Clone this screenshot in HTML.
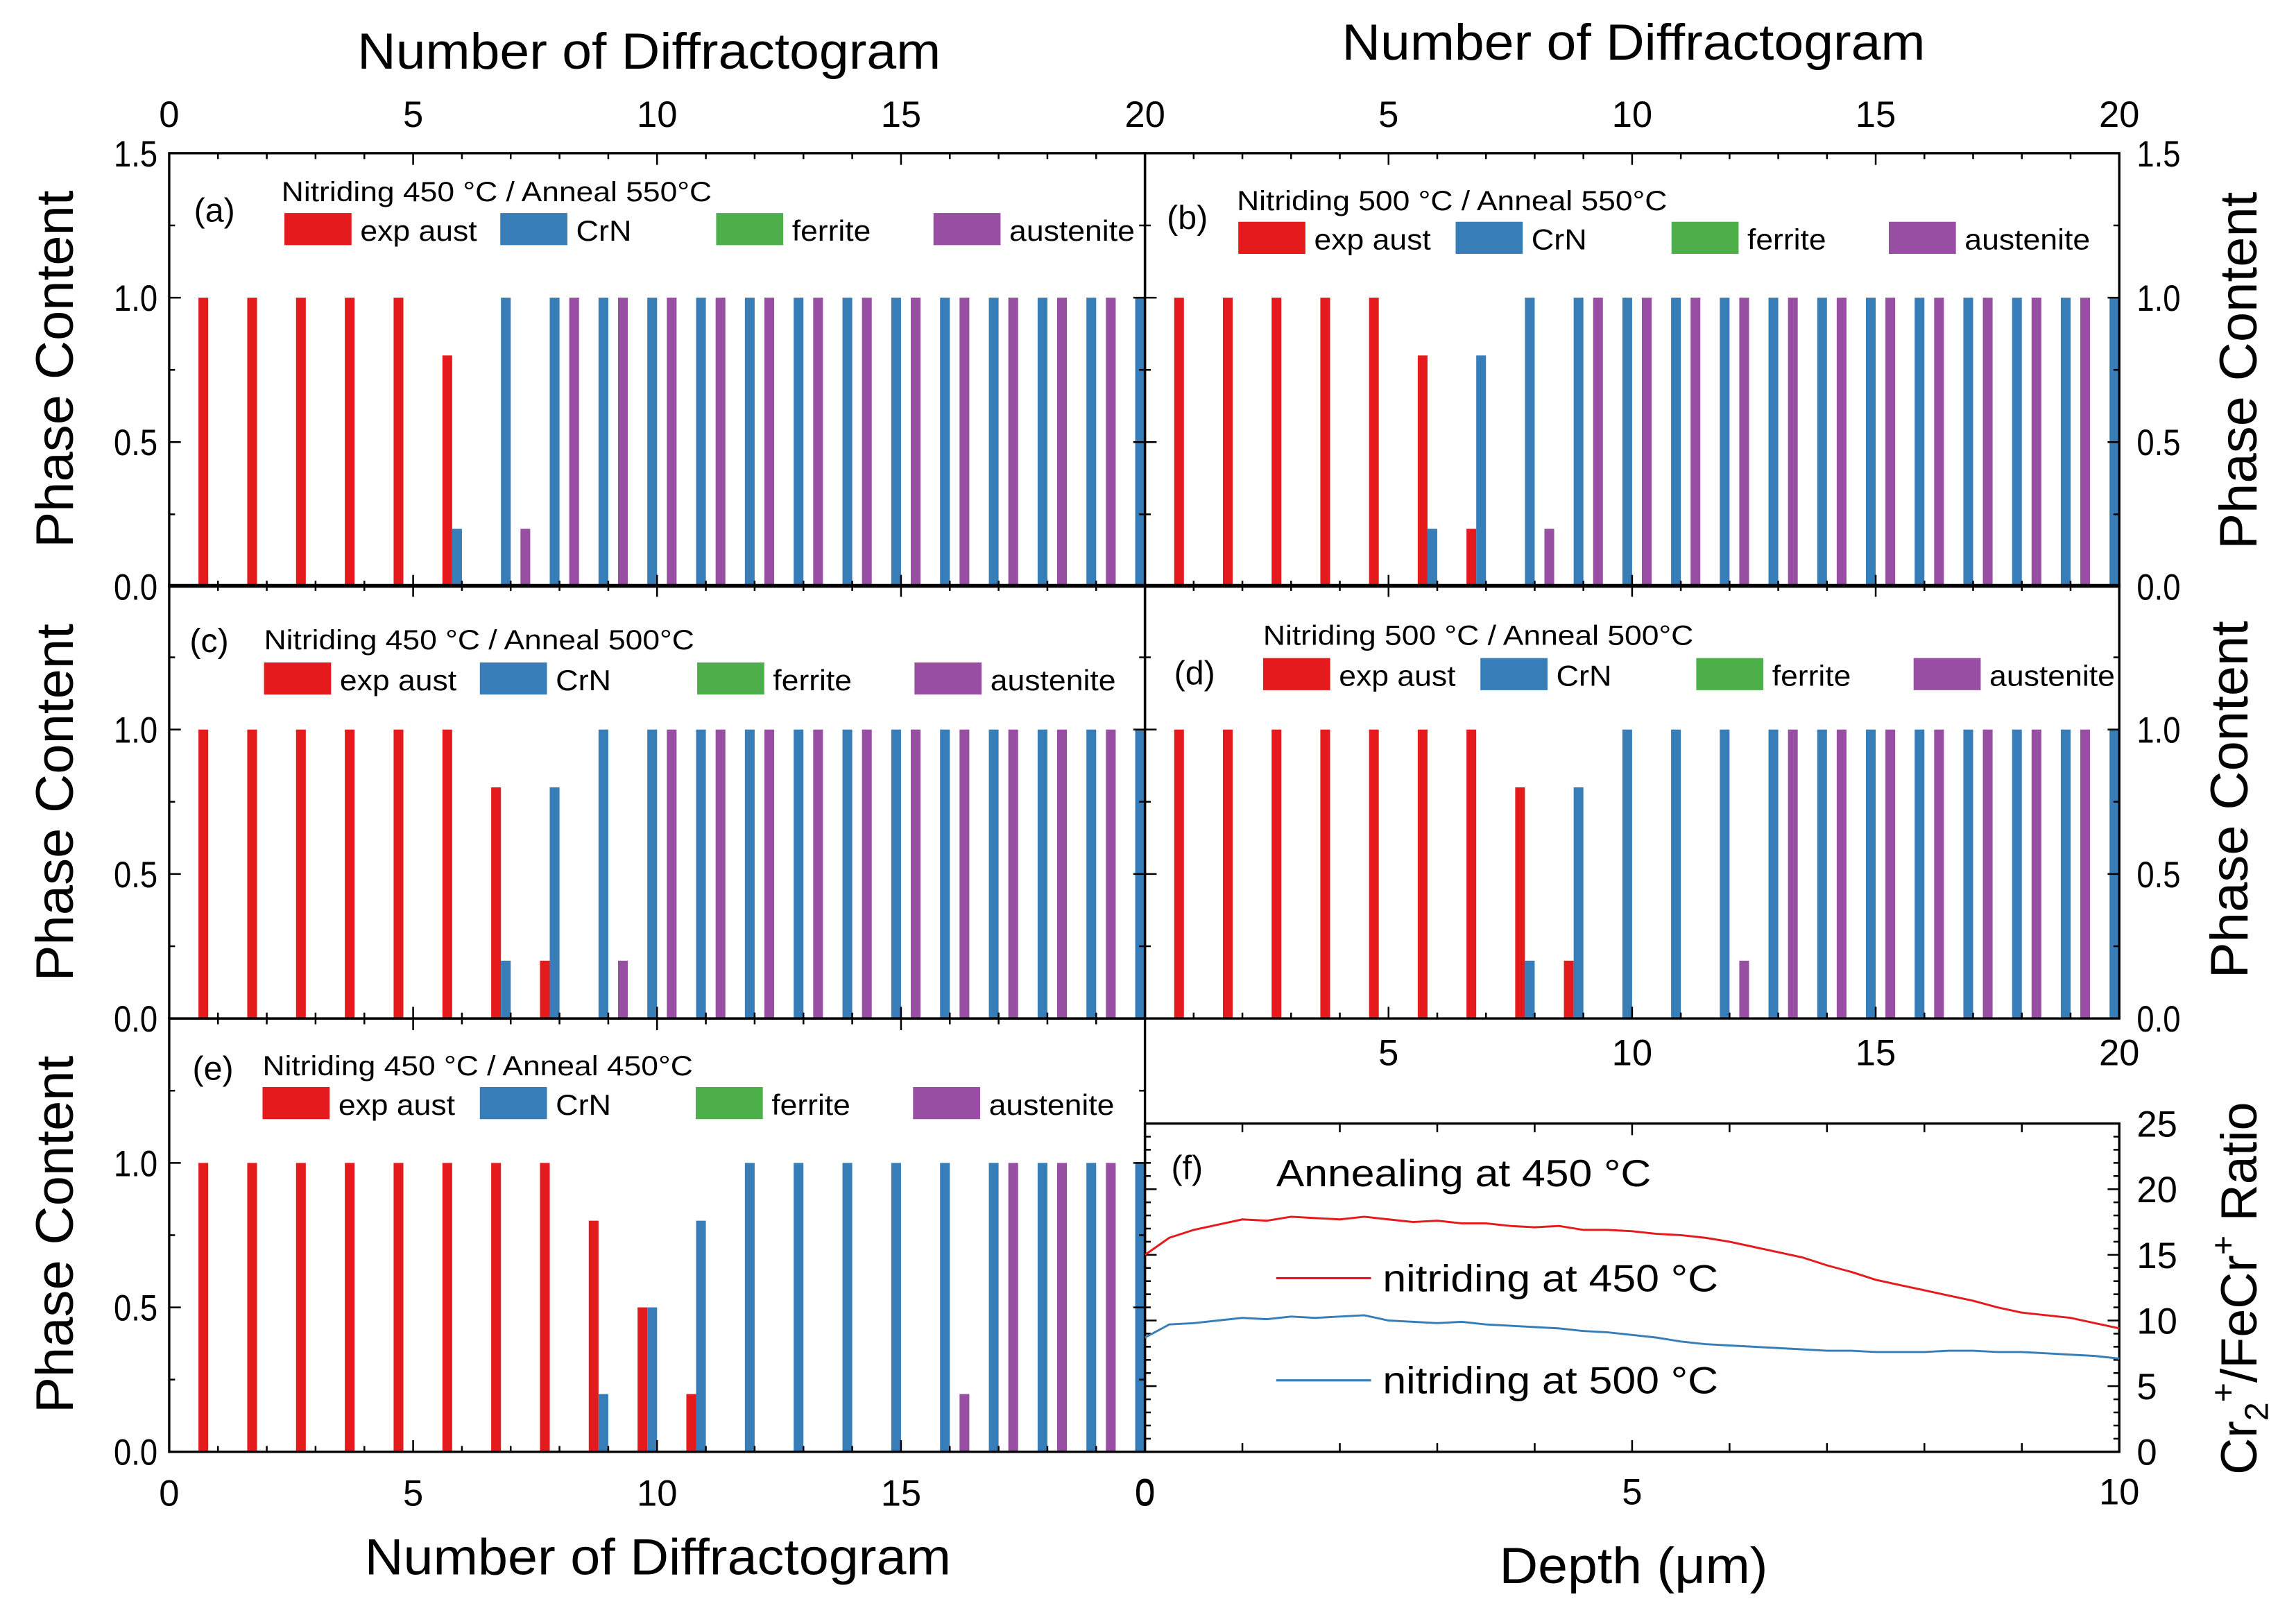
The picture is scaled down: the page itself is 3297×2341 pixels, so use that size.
<!DOCTYPE html>
<html><head><meta charset="utf-8">
<style>
html,body{margin:0;padding:0;background:#fff;}
svg{display:block;font-family:"Liberation Sans",Arial,sans-serif;}
</style></head>
<body>
<svg id="fig" width="3297" height="2341" viewBox="0 0 1568 1113" preserveAspectRatio="none" xmlns="http://www.w3.org/2000/svg">
<rect x="0" y="0" width="1568" height="1113" fill="#fff"/>
<defs>
<clipPath id="clipA"><rect x="116" y="105" width="669" height="297"/></clipPath>
<clipPath id="clipB"><rect x="785" y="105" width="668" height="297"/></clipPath>
<clipPath id="clipC"><rect x="116" y="402" width="669" height="296"/></clipPath>
<clipPath id="clipD"><rect x="785" y="402" width="668" height="296"/></clipPath>
<clipPath id="clipE"><rect x="116" y="698" width="669" height="297"/></clipPath>
</defs>
<g id="layer"></g>

<!-- axis titles -->
<text x="245" y="47" font-size="35" textLength="400" lengthAdjust="spacingAndGlyphs">Number of Diffractogram</text>
<text x="920" y="41" font-size="35" textLength="400" lengthAdjust="spacingAndGlyphs">Number of Diffractogram</text>
<text x="250" y="1079" font-size="35" textLength="402" lengthAdjust="spacingAndGlyphs">Number of Diffractogram</text>
<text x="1028" y="1085" font-size="35" textLength="184" lengthAdjust="spacingAndGlyphs">Depth (μm)</text>
<text font-size="36" text-anchor="middle" textLength="245" lengthAdjust="spacingAndGlyphs" transform="translate(50,253) rotate(-90)">Phase Content</text>
<text font-size="36" text-anchor="middle" textLength="245" lengthAdjust="spacingAndGlyphs" transform="translate(50,550) rotate(-90)">Phase Content</text>
<text font-size="36" text-anchor="middle" textLength="245" lengthAdjust="spacingAndGlyphs" transform="translate(50,846) rotate(-90)">Phase Content</text>
<text font-size="36" text-anchor="middle" textLength="245" lengthAdjust="spacingAndGlyphs" transform="translate(1547,254) rotate(-90)">Phase Content</text>
<text font-size="36" text-anchor="middle" textLength="245" lengthAdjust="spacingAndGlyphs" transform="translate(1541,548) rotate(-90)">Phase Content</text>
<text font-size="35" text-anchor="middle" transform="translate(1547,883) rotate(-90)">Cr<tspan font-size="23" dy="8">2</tspan><tspan font-size="23" dy="-23">+</tspan><tspan dy="15">/FeCr</tspan><tspan font-size="23" dy="-15">+</tspan><tspan dy="15"> Ratio</tspan></text>

<!-- panel (f) annotations -->
<text x="803" y="808" font-size="23">(f)</text>
<text x="875" y="813" font-size="26" textLength="257" lengthAdjust="spacingAndGlyphs">Annealing at 450 °C</text>
<line x1="875" y1="876" x2="940" y2="876" stroke="#e41a1c" stroke-width="1.5"/>
<text x="948" y="885" font-size="26" textLength="230" lengthAdjust="spacingAndGlyphs">nitriding at 450 °C</text>
<line x1="875" y1="946" x2="940" y2="946" stroke="#377eb8" stroke-width="1.5"/>
<text x="948" y="955" font-size="26" textLength="230" lengthAdjust="spacingAndGlyphs">nitriding at 500 °C</text>
</svg>

<script>
// ---- bar chart data (values per diffractogram 1..20) ----
const diffractograms = [1,2,3,4,5,6,7,8,9,10,11,12,13,14,15,16,17,18,19,20];
const aRed    = [1,1,1,1,1,0.8,0,0,0,0,0,0,0,0,0,0,0,0,0,0];
const aBlue   = [0,0,0,0,0,0.2,1,1,1,1,1,1,1,1,1,1,1,1,1,1];
const aPurple = [0,0,0,0,0,0,0.2,1,1,1,1,1,1,1,1,1,1,1,1,1];
const bRed    = [1,1,1,1,1,0.8,0.2,0,0,0,0,0,0,0,0,0,0,0,0,0];
const bBlue   = [0,0,0,0,0,0.2,0.8,1,1,1,1,1,1,1,1,1,1,1,1,1];
const bPurple = [0,0,0,0,0,0,0,0.2,1,1,1,1,1,1,1,1,1,1,1,1];
const cRed    = [1,1,1,1,1,1,0.8,0.2,0,0,0,0,0,0,0,0,0,0,0,0];
const cBlue   = [0,0,0,0,0,0,0.2,0.8,1,1,1,1,1,1,1,1,1,1,1,1];
const cPurple = [0,0,0,0,0,0,0,0,0.2,1,1,1,1,1,1,1,1,1,1,1];
const dRed    = [1,1,1,1,1,1,1,0.8,0.2,0,0,0,0,0,0,0,0,0,0,0];
const dBlue   = [0,0,0,0,0,0,0,0.2,0.8,1,1,1,1,1,1,1,1,1,1,1];
const dPurple = [0,0,0,0,0,0,0,0,0,0,0,0.2,1,1,1,1,1,1,1,1];
const eRed    = [1,1,1,1,1,1,1,1,0.8,0.5,0.2,0,0,0,0,0,0,0,0,0];
const eBlue   = [0,0,0,0,0,0,0,0,0.2,0.5,0.8,1,1,1,1,1,1,1,1,1];
const ePurple = [0,0,0,0,0,0,0,0,0,0,0,0,0,0,0,0.2,1,1,1,1];
const ferrite = [0,0,0,0,0,0,0,0,0,0,0,0,0,0,0,0,0,0,0,0];
const phaseTicks = [0, 0.5, 1.0, 1.5];
const phaseTickLabels = ["0.0","0.5","1.0","1.5"];
const diffTicks = [0,5,10,15,20];

// ---- line chart data (panel f) ----
const depth = [0,0.25,0.5,0.75,1,1.25,1.5,1.75,2,2.25,2.5,2.75,3,3.25,3.5,3.75,4,4.25,4.5,4.75,5,5.25,5.5,5.75,6,6.25,6.5,6.75,7,7.25,7.5,7.75,8,8.25,8.5,8.75,9,9.25,9.5,9.75,10];
const ratio450 = [15.0,16.3,16.9,17.3,17.7,17.6,17.9,17.8,17.7,17.9,17.7,17.5,17.6,17.4,17.4,17.2,17.1,17.2,16.9,16.9,16.8,16.6,16.5,16.3,16.0,15.6,15.2,14.8,14.2,13.7,13.1,12.7,12.3,11.9,11.5,11.0,10.6,10.4,10.2,9.8,9.4];
const ratio500 = [8.7,9.7,9.8,10.0,10.2,10.1,10.3,10.2,10.3,10.4,10.0,9.9,9.8,9.9,9.7,9.6,9.5,9.4,9.2,9.1,8.9,8.7,8.4,8.2,8.1,8.0,7.9,7.8,7.7,7.7,7.6,7.6,7.6,7.7,7.7,7.6,7.6,7.5,7.4,7.3,7.1];
const ratioTicks = [0,5,10,15,20,25];
const depthTicks = [0,5,10];

const NS = "http://www.w3.org/2000/svg";
const layer = document.getElementById('layer');
function mk(tag, attrs, parent) {
  const el = document.createElementNS(NS, tag);
  for (const k in attrs) el.setAttribute(k, attrs[k]);
  (parent || layer).appendChild(el);
  return el;
}
const COL = {red:"#e41a1c", blue:"#377eb8", green:"#4daf4a", purple:"#984ea3"};

const panels = [
  {id:"a", x0:116, x1:785, yb:402, clip:"clipA", red:aRed, blue:aBlue, purple:aPurple,
   yLab:"left", yLabs:[0,1,2,3], xLab:"top", xLabs:[0,1,2,3,4], xLabY:87,
   lab:[133,152], leg:{tx:193, ty:138, sy:146, sw:[195,343,491,640]}, title:"Nitriding 450 °C / Anneal 550°C"},
  {id:"b", x0:785, x1:1453, yb:402, clip:"clipB", red:bRed, blue:bBlue, purple:bPurple,
   yLab:"right", yLabs:[0,1,2,3], xLab:"top", xLabs:[1,2,3,4], xLabY:87,
   lab:[800,157], leg:{tx:848, ty:144, sy:152, sw:[849,998,1146,1295]}, title:"Nitriding 500 °C / Anneal 550°C"},
  {id:"c", x0:116, x1:785, yb:698, clip:"clipC", red:cRed, blue:cBlue, purple:cPurple,
   yLab:"left", yLabs:[0,1,2], xLab:null, xLabs:[],
   lab:[130,447], leg:{tx:181, ty:445, sy:454, sw:[181,329,478,627]}, title:"Nitriding 450 °C / Anneal 500°C"},
  {id:"d", x0:785, x1:1453, yb:698, clip:"clipD", red:dRed, blue:dBlue, purple:dPurple,
   yLab:"right", yLabs:[0,1,2], xLab:"bottom", xLabs:[1,2,3,4], xLabY:730,
   lab:[805,469], leg:{tx:866, ty:442, sy:451, sw:[866,1015,1163,1312]}, title:"Nitriding 500 °C / Anneal 500°C"},
  {id:"e", x0:116, x1:785, yb:995, clip:"clipE", red:eRed, blue:eBlue, purple:ePurple,
   yLab:"left", yLabs:[0,1,2], xLab:"bottom", xLabs:[0,1,2,3,4], xLabY:1032, lastZero:true,
   lab:[132,740], leg:{tx:180, ty:737, sy:745, sw:[180,329,477,626]}, title:"Nitriding 450 °C / Anneal 450°C"}
];

panels.forEach(p => {
  const g = mk('g', {});
  
  
  const yt = p.yb - 297;
  const xs = v => p.x0 + v * (p.x1 - p.x0) / 20;
  const ys = v => p.yb - v * 297 / 1.5;
  const bg = mk('g', {'clip-path': 'url(#' + p.clip + ')'}, g);
  const series = [[p.red, COL.red, -0.3, 'exp-aust'], [p.blue, COL.blue, -0.1, 'crn'], [ferrite, COL.green, 0.1, 'ferrite'], [p.purple, COL.purple, 0.3, 'austenite']];
  series.forEach(s => {
    s[0].forEach((v, i) => {
      if (v <= 0) return;
      const c = diffractograms[i] + s[2];
      const r = mk('rect', {x: xs(c - 0.1), y: ys(v), width: xs(0.2) - xs(0), height: ys(0) - ys(v), fill: s[1]}, bg);
      
      
    });
  });
  const fr = mk('rect', {x: p.x0, y: yt, width: p.x1 - p.x0, height: 297, fill: 'none', stroke: '#000', 'stroke-width': 1.6}, g);
  
  
  for (let v = 0; v <= 20; v++) {
    const L = v % 5 === 0 ? 8 : 4;
    mk('line', {x1: xs(v), x2: xs(v), y1: yt, y2: yt + L, stroke: '#000', 'stroke-width': 1.2}, g);
    mk('line', {x1: xs(v), x2: xs(v), y1: p.yb, y2: p.yb - L, stroke: '#000', 'stroke-width': 1.2}, g);
  }
  for (let k = 0; k <= 6; k++) {
    const v = k * 0.25;
    const L = k % 2 === 0 ? 8 : 4;
    mk('line', {x1: p.x0, x2: p.x0 + L, y1: ys(v), y2: ys(v), stroke: '#000', 'stroke-width': 1.2}, g);
    mk('line', {x1: p.x1, x2: p.x1 - L, y1: ys(v), y2: ys(v), stroke: '#000', 'stroke-width': 1.2}, g);
  }
  p.yLabs.forEach(i => {
    const t = mk('text', {x: p.yLab === 'left' ? p.x0 - 8 : p.x1 + 12, y: ys(phaseTicks[i]) + 9, 'font-size': 25, 'text-anchor': p.yLab === 'left' ? 'end' : 'start', textLength: 30, lengthAdjust: 'spacingAndGlyphs'}, g);
    t.textContent = phaseTickLabels[i];
    
    
  });
  p.xLabs.forEach(i => {
    const t = mk('text', {x: xs(diffTicks[i]), y: p.xLabY, 'font-size': 25, 'text-anchor': 'middle'}, g);
    t.textContent = (p.lastZero && i === 4) ? '0' : String(diffTicks[i]);
    
    
  });
  const pl = mk('text', {x: p.lab[0], y: p.lab[1], 'font-size': 23}, g);
  pl.textContent = '(' + p.id + ')';
  
  
  const lt = mk('text', {x: p.leg.tx, y: p.leg.ty, 'font-size': 19, textLength: 295, lengthAdjust: 'spacingAndGlyphs'}, g);
  lt.textContent = p.title;
  
  
  const names = ['exp aust', 'CrN', 'ferrite', 'austenite'];
  const lens = [80, 38, 54, 86];
  const cols = [COL.red, COL.blue, COL.green, COL.purple];
  p.leg.sw.forEach((sx, i) => {
    const sw = mk('rect', {x: sx, y: p.leg.sy, width: 46, height: 22, fill: cols[i]}, g);
    
    
    const tx = mk('text', {x: sx + 52, y: p.leg.sy + 19, 'font-size': 20, textLength: lens[i], lengthAdjust: 'spacingAndGlyphs'}, g);
    tx.textContent = names[i];
    
    
  });
});

// ---- panel f ----
(function () {
  const X0 = 785, X1 = 1453, YB = 995, YT = 770;
  const xs = d => X0 + d * (X1 - X0) / 10;
  const ys = r => YB - r * (YB - YT) / 25;
  const g = mk('g', {});
  
  
  const fr = mk('rect', {x: X0, y: YT, width: X1 - X0, height: YB - YT, fill: 'none', stroke: '#000', 'stroke-width': 1.6}, g);
  
  
  for (let d = 0; d <= 10; d++) {
    const L = d % 5 === 0 ? 8 : 6;
    mk('line', {x1: xs(d), x2: xs(d), y1: YT, y2: YT + L, stroke: '#000', 'stroke-width': 1.2}, g);
    mk('line', {x1: xs(d), x2: xs(d), y1: YB, y2: YB - L, stroke: '#000', 'stroke-width': 1.2}, g);
  }
  for (let r = 0; r <= 25; r++) {
    const L = r % 5 === 0 ? 8 : 4;
    mk('line', {x1: X0, x2: X0 + L, y1: ys(r), y2: ys(r), stroke: '#000', 'stroke-width': 1.2}, g);
    mk('line', {x1: X1, x2: X1 - L, y1: ys(r), y2: ys(r), stroke: '#000', 'stroke-width': 1.2}, g);
  }
  ratioTicks.forEach(r => {
    const t = mk('text', {x: X1 + 12, y: ys(r) + 9, 'font-size': 25}, g);
    t.textContent = String(r);
    
    
  });
  depthTicks.forEach(d => {
    const t = mk('text', {x: xs(d), y: 1031, 'font-size': 25, 'text-anchor': 'middle'}, g);
    t.textContent = String(d);
    
    
  });
  const p1 = mk('polyline', {points: depth.map((d, i) => xs(d) + ',' + ys(ratio450[i])).join(' '), fill: 'none', stroke: '#e41a1c', 'stroke-width': 1.4}, g);
  
  
  const p2 = mk('polyline', {points: depth.map((d, i) => xs(d) + ',' + ys(ratio500[i])).join(' '), fill: 'none', stroke: '#377eb8', 'stroke-width': 1.4}, g);
  
  
})();
</script>
</body></html>
